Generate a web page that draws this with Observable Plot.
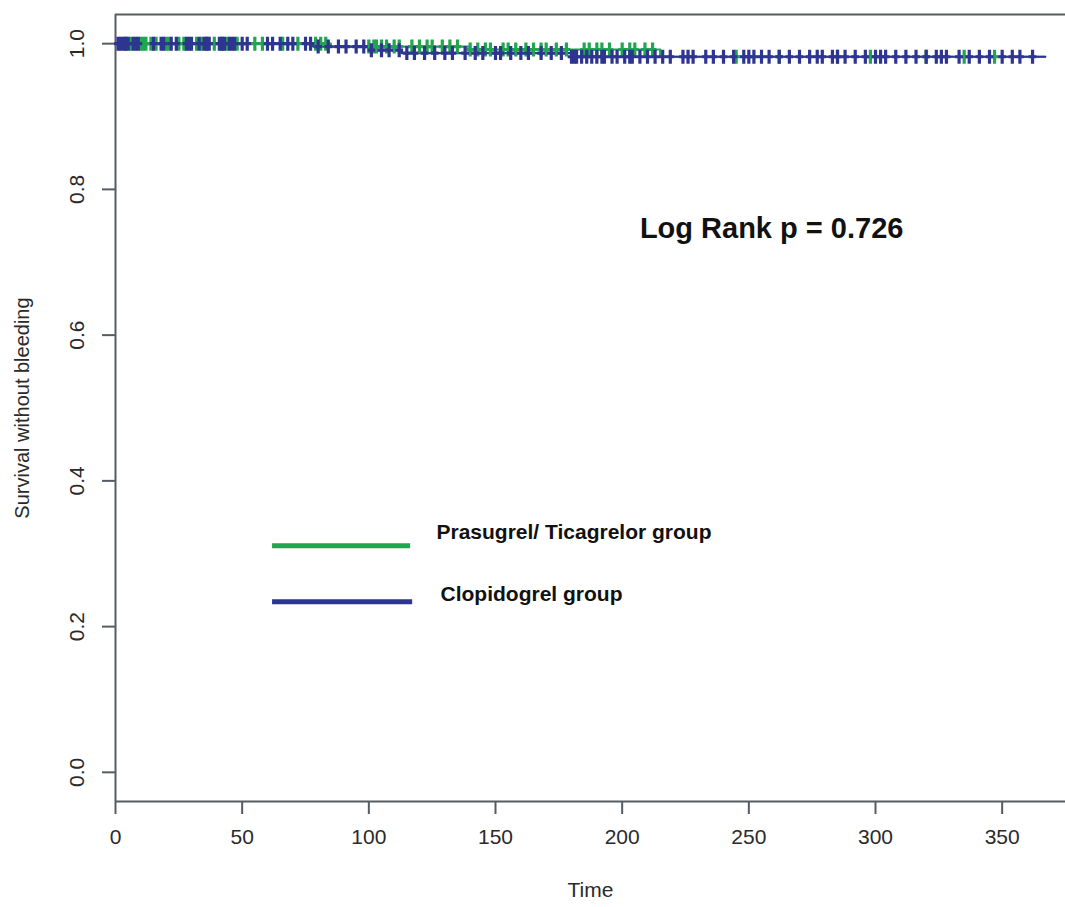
<!DOCTYPE html>
<html>
<head>
<meta charset="utf-8">
<script src="https://cdn.jsdelivr.net/npm/d3@7"></script>
<script src="https://cdn.jsdelivr.net/npm/@observablehq/plot@0.6"></script>
<style>
  html, body { margin: 0; padding: 0; background: #fff; }
</style>
</head>
<body>
<div id="chart"></div>
<script>
// ---- data ----
const xTicks = [0, 50, 100, 150, 200, 250, 300, 350];
const yTicks = [0, 0.2, 0.4, 0.6, 0.8, 1.0];
const groups = ["Prasugrel/ Ticagrelor group", "Clopidogrel group"];
const colors = ["#1fa64f", "#2e3590"];

// Kaplan-Meier step estimates (time, survival)
const prasTimes = [0, 85, 140, 215, 367];
const prasSurv  = [1.0, 0.996, 0.992, 0.982, 0.982];
const clopiTimes = [0, 78, 100, 113, 180, 367];
const clopiSurv  = [1.0, 0.996, 0.991, 0.987, 0.982, 0.982];

// censoring times
const prasCensor = [4, 6, 10, 11, 12, 14, 16, 20, 21, 25, 27, 32, 34, 36, 39, 42, 44, 48, 55, 58,
  66, 72, 79, 81, 83, 100, 102, 103, 105, 107, 110, 112, 117, 120, 123, 125, 129, 132, 135, 140,
  143, 146, 148, 153, 155, 158, 162, 165, 168, 170, 174, 178, 185, 187, 190, 192, 195, 200, 203,
  205, 209, 212, 245, 262, 285, 298, 320, 335, 347];
const clopiCensor = [1, 2, 3, 4, 5, 7, 8, 9, 15, 18, 19, 22, 24, 28, 29, 30, 33, 35, 36, 37, 41,
  42, 43, 45, 46, 47, 50, 52, 60, 62, 65, 68, 70, 75, 77, 80, 84, 88, 91, 95, 98, 101, 105, 108,
  112, 115, 118, 122, 126, 130, 133, 138, 142, 145, 150, 152, 156, 160, 163, 168, 172, 176, 180,
  181, 182, 184, 186, 188, 190, 192, 193, 196, 198, 201, 203, 204, 207, 210, 213, 216, 219, 224,
  226, 228, 233, 236, 240, 244, 248, 250, 252, 255, 258, 262, 266, 270, 274, 277, 279, 283, 285,
  288, 292, 296, 300, 302, 304, 308, 312, 316, 320, 324, 326, 328, 333, 337, 341, 345, 350, 354,
  357, 362];

const xDomain = [0, 375];
const yDomain = [-0.04, 1.04];

// ---- build tables ----
function survAt(times, surv, t) {
  let s = surv[0];
  for (let i = 0; i < times.length; i++) if (times[i] <= t) s = surv[i];
  return s;
}
const curve = [
  ...prasTimes.map((t, i) => ({group: groups[0], t, s: prasSurv[i]})),
  ...clopiTimes.map((t, i) => ({group: groups[1], t, s: clopiSurv[i]}))
];
const censorPras = prasCensor.map(t => ({t, s: survAt(prasTimes, prasSurv, t)}));
const censorClopi = clopiCensor.map(t => ({t, s: survAt(clopiTimes, clopiSurv, t)}));

const plusSymbol = {
  draw(ctx, size) {
    const r = Math.sqrt(size / Math.PI);
    ctx.moveTo(0, -r); ctx.lineTo(0, r);
    ctx.moveTo(-0.55 * r, 0); ctx.lineTo(0.55 * r, 0);
  }
};

const axisColor = "#565c63";
const textColor = "#2a2a2a";

const chart = Plot.plot({
  width: 1065,
  height: 907,
  marginLeft: 115,
  marginRight: 0,
  marginTop: 14,
  marginBottom: 106,
  x: {domain: xDomain},
  y: {domain: yDomain},
  style: {fontFamily: "'Liberation Sans', Arial, sans-serif", background: "#fff", color: textColor},
  marks: [
    // box (left, bottom, top)
    Plot.ruleX([xDomain[0]], {stroke: axisColor, strokeWidth: 2}),
    Plot.ruleY([yDomain[0]], {stroke: axisColor, strokeWidth: 2}),
    Plot.ruleY([yDomain[1]], {stroke: axisColor, strokeWidth: 2}),
    // ticks
    Plot.axisX({ticks: xTicks, tickSize: 13, tickFormat: () => "", stroke: axisColor, strokeWidth: 2, label: null}),
    Plot.axisY({ticks: yTicks, tickSize: 13, tickFormat: () => "", stroke: axisColor, strokeWidth: 2, label: null}),
    Plot.text(xTicks, {x: d => d, text: d => String(d), frameAnchor: "bottom", dy: 42, fontSize: 21, fill: textColor}),
    Plot.text(yTicks, {y: d => d, text: d => d.toFixed(1), frameAnchor: "left", textAnchor: "middle", dx: -38, rotate: -90, fontSize: 21, fill: textColor}),
    // axis titles
    Plot.text(["Time"], {frameAnchor: "bottom", dy: 95, fontSize: 21, fill: textColor}),
    Plot.text(["Survival without bleeding"], {frameAnchor: "left", textAnchor: "middle", dx: -93, rotate: -90, fontSize: 20, fill: textColor}),
    // curves
    Plot.line(curve, {x: "t", y: "s", z: "group", stroke: d => d.group === groups[0] ? colors[0] : colors[1], strokeWidth: 2.2, curve: "step-after"}),
    Plot.dot(censorPras, {x: "t", y: "s", symbol: plusSymbol, r: 7, stroke: colors[0], strokeWidth: 3.2, fill: "none"}),
    Plot.dot(censorClopi, {x: "t", y: "s", symbol: plusSymbol, r: 7, stroke: colors[1], strokeWidth: 3.2, fill: "none"}),
    // annotation
    Plot.text(["Log Rank p = 0.726"], {x: 259, y: 0.746, fontSize: 29, fontWeight: "bold", fill: "#111"}),
    // legend
    Plot.ruleY([0.311], {x1: 62, x2: 116.5, stroke: colors[0], strokeWidth: 5}),
    Plot.ruleY([0.234], {x1: 62, x2: 117.3, stroke: colors[1], strokeWidth: 5}),
    Plot.text([groups[0]], {x: 126.7, y: 0.329, textAnchor: "start", fontSize: 21, fontWeight: "bold", fill: "#111"}),
    Plot.text([groups[1]], {x: 128.3, y: 0.245, textAnchor: "start", fontSize: 21, fontWeight: "bold", fill: "#111"})
  ]
});

document.getElementById("chart").appendChild(chart);
</script>
</body>
</html>
